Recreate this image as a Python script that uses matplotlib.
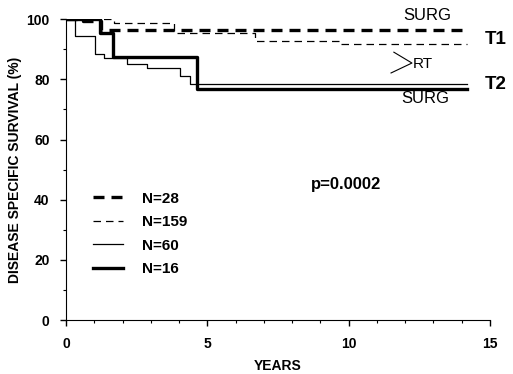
import matplotlib
matplotlib.use("Agg")
import matplotlib.pyplot as plt
from matplotlib.ticker import MultipleLocator

plt.rcParams['font.family'] = ['Liberation Sans', 'DejaVu Sans']

# step points (years, % surviving)
t28 = [0, 0.6, 1.25, 14.2]
s28 = [100, 99.5, 96.5, 96.5]
t159 = [0, 1.7, 3.8, 6.7, 9.7, 14.2]
s159 = [100, 98.8, 95.3, 92.8, 91.7, 91.7]
t60 = [0, 0.32, 1.03, 1.34, 2.16, 2.86, 4.03, 4.39, 14.2]
s60 = [100, 94.5, 88.3, 87.0, 85.0, 83.8, 81.0, 78.3, 78.3]
t16 = [0, 1.2, 1.66, 4.63, 14.2]
s16 = [100, 95.5, 87.5, 76.8, 76.8]
labels = ['N=28', 'N=159', 'N=60', 'N=16']

fig = plt.figure(figsize=(5.13, 3.74), dpi=100)
ax = fig.add_axes([0.129, 0.144, 0.826, 0.805])

ax.step(t28, s28, where='post', color='k', lw=2.4, dashes=(3.3, 2.1), label=labels[0])
ax.step(t159, s159, where='post', color='k', lw=0.9, dashes=(6, 4), label=labels[1])
ax.step(t60, s60, where='post', color='k', lw=0.9, label=labels[2])
ax.step(t16, s16, where='post', color='k', lw=2.4, label=labels[3])

ax.set_xlim(0, 15)
ax.set_ylim(0, 100)
ax.xaxis.set_major_locator(MultipleLocator(5))
ax.xaxis.set_minor_locator(MultipleLocator(1))
ax.yaxis.set_major_locator(MultipleLocator(20))
ax.yaxis.set_minor_locator(MultipleLocator(10))
ax.spines['top'].set_visible(False)
ax.spines['right'].set_visible(False)
ax.tick_params(which='major', length=4, width=1, labelsize=10)
ax.tick_params(axis='x', which='major', pad=8)
ax.tick_params(axis='y', which='major', pad=8)
ax.tick_params(which='minor', length=2.5, width=0.8)
for lab in ax.get_xticklabels() + ax.get_yticklabels():
    lab.set_fontweight('bold')

ax.set_ylabel('DISEASE SPECIFIC SURVIVAL (%)', fontsize=10, fontweight='bold', labelpad=3)
fig.text(278 / 513, 1 - 366 / 374, 'YEARS', fontsize=10, fontweight='bold',
         ha='center', va='center')

ax.text(12.8, 101.3, 'SURG', fontsize=12, ha='center', va='center', clip_on=False)
ax.text(14.82, 93.3, 'T1', fontsize=13.5, fontweight='bold', ha='left', va='center', clip_on=False)
ax.plot([11.6, 12.24, 11.5], [89.0, 85.4, 82.1], color='k', lw=0.8)
ax.text(12.26, 85.2, 'RT', fontsize=11, ha='left', va='center')
ax.text(14.82, 78.2, 'T2', fontsize=13.5, fontweight='bold', ha='left', va='center', clip_on=False)
ax.text(12.7, 73.6, 'SURG', fontsize=12, ha='center', va='center')
ax.text(9.9, 44.9, 'p=0.0002', fontsize=12, fontweight='bold', ha='center', va='center')

leg = ax.legend(loc='upper left', bbox_to_anchor=(0.064, 0.427), frameon=False,
                handlelength=1.96, handletextpad=1.25, labelspacing=0.62,
                borderpad=0, borderaxespad=0,
                prop={'size': 11, 'weight': 'bold'})

fig.savefig('out.png', dpi=100)
